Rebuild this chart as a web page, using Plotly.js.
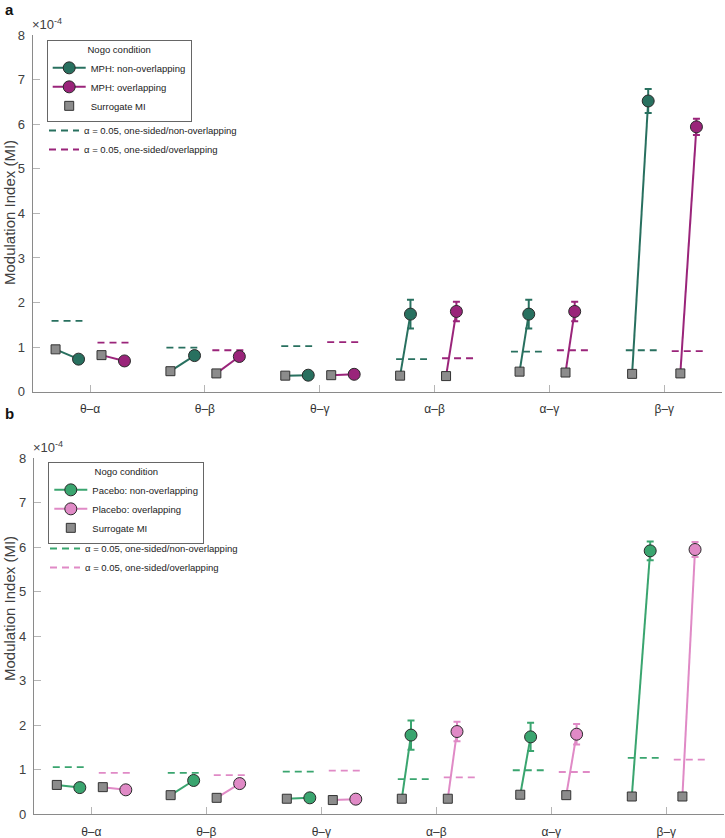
<!DOCTYPE html>
<html>
<head>
<meta charset="utf-8">
<script src="https://cdn.plot.ly/plotly-3.0.1.min.js"></script>
<style>
  html, body { margin: 0; padding: 0; background: #fff; }
  #chart { width: 725px; height: 838px; }
</style>
</head>
<body>
<div id="chart"></div>
<script>
// Cross-frequency pairs (x categories)
const pairs = ['θ–α', 'θ–β', 'θ–γ', 'α–β', 'α–γ', 'β–γ'];

// Panel a: MPH (values in units of 1e-4)
const mphSurrNon = [0.95, 0.46, 0.36, 0.36, 0.45, 0.40];
const mphNon     = [0.73, 0.81, 0.37, 1.74, 1.74, 6.52];
const mphNonErr  = [NaN, NaN, NaN, 0.32, 0.32, 0.27];
const mphSurrOv  = [0.82, 0.41, 0.37, 0.35, 0.43, 0.41];
const mphOv      = [0.69, 0.79, 0.39, 1.80, 1.80, 5.94];
const mphOvErr   = [NaN, NaN, NaN, 0.22, 0.22, 0.18];
const mphThrNon  = [1.59, 0.99, 1.02, 0.73, 0.90, 0.93];
const mphThrOv   = [1.10, 0.93, 1.11, 0.75, 0.93, 0.91];

// Panel b: Placebo (values in units of 1e-4)
const plaSurrNon = [0.66, 0.43, 0.35, 0.35, 0.44, 0.40];
const plaNon     = [0.60, 0.76, 0.37, 1.78, 1.74, 5.92];
const plaNonErr  = [NaN, NaN, NaN, 0.33, 0.32, 0.21];
const plaSurrOv  = [0.61, 0.37, 0.32, 0.35, 0.43, 0.40];
const plaOv      = [0.55, 0.69, 0.34, 1.86, 1.80, 5.95];
const plaOvErr   = [NaN, NaN, NaN, 0.22, 0.23, 0.17];
const plaThrNon  = [1.06, 0.93, 0.96, 0.79, 0.99, 1.27];
const plaThrOv   = [0.93, 0.88, 0.98, 0.83, 0.95, 1.23];

// Horizontal placement of each marker within its pair group
const placeA = {
  surrNon: [-0.30, -0.30, -0.30, -0.30, -0.26, -0.28],
  non:     [-0.10, -0.09, -0.10, -0.21, -0.18, -0.14],
  surrOv:  [ 0.10,  0.10,  0.10,  0.10,  0.14,  0.14],
  ov:      [ 0.30,  0.30,  0.30,  0.19,  0.22,  0.28]
};
const placeB = {
  surrNon: [-0.30, -0.31, -0.30, -0.30, -0.27, -0.30],
  non:     [-0.10, -0.11, -0.10, -0.22, -0.18, -0.14],
  surrOv:  [ 0.10,  0.09,  0.10,  0.10,  0.13,  0.14],
  ov:      [ 0.30,  0.29,  0.30,  0.18,  0.22,  0.25]
};
const dashSpanNon = [-0.335, -0.066];
const dashSpanOv  = [0.065, 0.335];

const FONT = 'Liberation Sans, Arial, Helvetica, sans-serif';
const W = 725, H = 838;
const px = v => v / W;
const py = v => 1 - v / H;

function gap(arrs) {            // interleave with nulls so points stay unconnected
  const out = [];
  arrs.forEach(a => { out.push(...a, null); });
  return out;
}

function panelTraces(o) {
  const t = [];
  const idx = pairs.map((_, i) => i + 1);
  const common = { xaxis: o.xa, yaxis: o.ya, hoverinfo: 'skip' };

  // square -> circle connectors
  [['surrNon', 'non', o.surrNon, o.non, o.cNon], ['surrOv', 'ov', o.surrOv, o.ov, o.cOv]].forEach(([ks, kc, ys, yc, col]) => {
    t.push(Object.assign({
      type: 'scatter', mode: 'lines', showlegend: false,
      x: gap(idx.map((g, i) => [g + o.place[ks][i], g + o.place[kc][i]])),
      y: gap(idx.map((g, i) => [ys[i], yc[i]])),
      line: { color: col, width: 2 }
    }, common));
  });

  // significance thresholds
  [[o.thrNon, dashSpanNon, o.cNon, 'α = 0.05, one-sided/non-overlapping', 1],
   [o.thrOv, dashSpanOv, o.cOv, 'α = 0.05, one-sided/overlapping', 2]].forEach(([thr, span, col, name, rank]) => {
    t.push(Object.assign({
      type: 'scatter', mode: 'lines', name: name, legend: o.legDash, legendrank: rank,
      x: gap(idx.map(g => [g + span[0], g + span[1]])),
      y: gap(thr.map(v => [v, v])),
      line: { color: col, width: 1.8, dash: '7px,5px' }
    }, common));
  });

  // condition means with error bars
  [[o.non, o.nonErr, 'non', o.cNon, o.nameNon, 1], [o.ov, o.ovErr, 'ov', o.cOv, o.nameOv, 2]].forEach(([vals, errs, k, col, name, rank]) => {
    t.push(Object.assign({
      type: 'scatter', mode: 'lines+markers', name: name, legend: o.legMain, legendrank: rank,
      x: gap(idx.map((g, i) => [g + o.place[k][i]])),
      y: gap(vals.map(v => [v])),
      connectgaps: false,
      line: { color: col, width: 2 },
      marker: { symbol: 'circle', size: 12, color: col, line: { color: '#2a2a2a', width: 1 } },
      error_y: { type: 'data', array: gap(errs.map(e => [e])), color: col, thickness: 2, width: 3.5 }
    }, common));
  });

  // surrogate MI
  t.push(Object.assign({
    type: 'scatter', mode: 'markers', name: 'Surrogate MI', legend: o.legMain, legendrank: 3,
    x: idx.map((g, i) => g + o.place.surrNon[i]).concat(idx.map((g, i) => g + o.place.surrOv[i])),
    y: o.surrNon.concat(o.surrOv),
    marker: { symbol: 'square', size: 9, color: '#8c8c8c', line: { color: '#333', width: 1 } }
  }, common));
  return t;
}

const tealA = '#28705f', magA = '#9a247a';
const greenB = '#3aa56f', pinkB = '#e08ac6';

const data = [].concat(
  panelTraces({
    xa: 'x', ya: 'y', legMain: 'legend', legDash: 'legend2', place: placeA,
    surrNon: mphSurrNon, non: mphNon, nonErr: mphNonErr,
    surrOv: mphSurrOv, ov: mphOv, ovErr: mphOvErr,
    thrNon: mphThrNon, thrOv: mphThrOv, cNon: tealA, cOv: magA,
    nameNon: 'MPH: non-overlapping', nameOv: 'MPH: overlapping'
  }),
  panelTraces({
    xa: 'x2', ya: 'y2', legMain: 'legend3', legDash: 'legend4', place: placeB,
    surrNon: plaSurrNon, non: plaNon, nonErr: plaNonErr,
    surrOv: plaSurrOv, ov: plaOv, ovErr: plaOvErr,
    thrNon: plaThrNon, thrOv: plaThrOv, cNon: greenB, cOv: pinkB,
    nameNon: 'Pacebo: non-overlapping', nameOv: 'Placebo: overlapping'
  })
);

function xAxis(domain, anchor) {
  return {
    domain: domain, anchor: anchor, range: [0.5, 6.5],
    tickvals: pairs.map((_, i) => i + 1), ticktext: pairs,
    ticks: 'inside', ticklen: 7, tickwidth: 1, tickcolor: '#b5b5b5',
    showline: true, linecolor: '#8a8a8a', linewidth: 1,
    showgrid: false, zeroline: false, ticklabelstandoff: 6,
    tickfont: { family: FONT, size: 12, color: '#333' }
  };
}
function yAxis(domain, anchor) {
  return {
    domain: domain, anchor: anchor, range: [0, 8], dtick: 1,
    ticks: 'inside', ticklen: 7, tickwidth: 1, tickcolor: '#b5b5b5',
    showline: true, linecolor: '#8a8a8a', linewidth: 1,
    showgrid: false, zeroline: false, ticklabelstandoff: 4,
    tickfont: { family: FONT, size: 13, color: '#404040' }
  };
}
function boxedLegend(x, y) {
  return {
    x: x, y: y, xanchor: 'left', yanchor: 'top',
    bgcolor: '#fff', bordercolor: '#666', borderwidth: 1,
    font: { family: FONT, size: 9.5, color: '#222' },
    title: { text: 'Nogo condition', side: 'top center', font: { family: FONT, size: 9.5, color: '#222' } },
    itemwidth: 33, tracegroupgap: 0
  };
}
function plainLegend(x, y) {
  return {
    x: x, y: y, xanchor: 'left', yanchor: 'top',
    bgcolor: 'rgba(0,0,0,0)', borderwidth: 0,
    font: { family: FONT, size: 9.5, color: '#222' },
    itemwidth: 30, tracegroupgap: 0
  };
}

const annFont = { family: FONT, color: '#404040' };
const layout = {
  width: W, height: H,
  margin: { l: 0, r: 0, t: 0, b: 0 },
  paper_bgcolor: '#fff', plot_bgcolor: '#fff',
  showlegend: true,
  xaxis:  xAxis([px(32.6), px(721.7)], 'y'),
  yaxis:  yAxis([py(391.7), py(35)], 'x'),
  xaxis2: xAxis([px(33.8), px(723.8)], 'y2'),
  yaxis2: yAxis([py(814.3), py(458.3)], 'x2'),
  legend:  boxedLegend(px(46.7), py(40)),
  legend2: plainLegend(px(44), py(116)),
  legend3: boxedLegend(px(48.3), py(462)),
  legend4: plainLegend(px(45), py(534)),
  annotations: [
    { text: '<b>a</b>', x: px(3), y: py(-1), xref: 'paper', yref: 'paper', xanchor: 'left', yanchor: 'top', showarrow: false, font: { family: FONT, size: 15, color: '#111' } },
    { text: '<b>b</b>', x: px(3), y: py(403), xref: 'paper', yref: 'paper', xanchor: 'left', yanchor: 'top', showarrow: false, font: { family: FONT, size: 15, color: '#111' } },
    { text: '×10<sup>-4</sup>', x: px(30), y: py(34), xref: 'paper', yref: 'paper', xanchor: 'left', yanchor: 'bottom', showarrow: false, font: Object.assign({ size: 13 }, annFont) },
    { text: '×10<sup>-4</sup>', x: px(31), y: py(457), xref: 'paper', yref: 'paper', xanchor: 'left', yanchor: 'bottom', showarrow: false, font: Object.assign({ size: 13 }, annFont) },
    { text: 'Modulation Index (MI)', textangle: -90, x: px(9), y: py(213), xref: 'paper', yref: 'paper', xanchor: 'center', yanchor: 'middle', showarrow: false, font: Object.assign({ size: 15 }, annFont) },
    { text: 'Modulation Index (MI)', textangle: -90, x: px(9), y: py(609), xref: 'paper', yref: 'paper', xanchor: 'center', yanchor: 'middle', showarrow: false, font: Object.assign({ size: 15 }, annFont) }
  ]
};

Plotly.newPlot('chart', data, layout, { staticPlot: true, displayModeBar: false });
</script>
</body>
</html>
